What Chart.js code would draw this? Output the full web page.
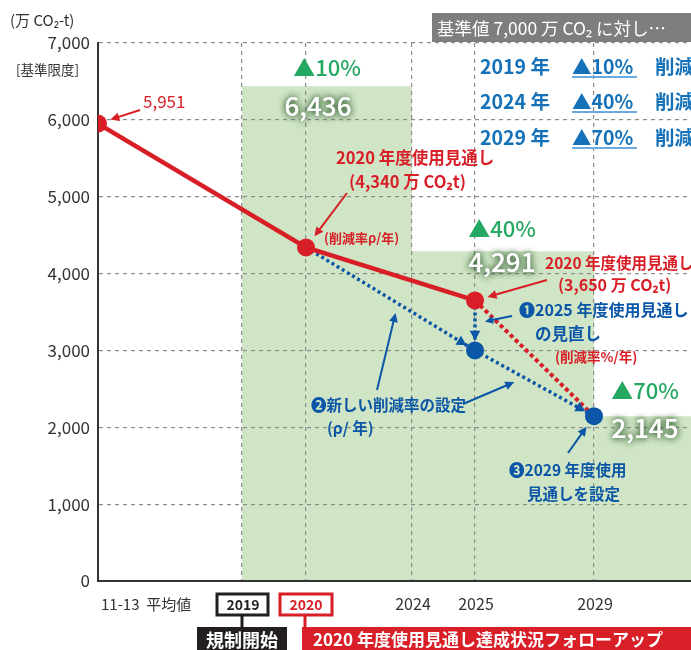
<!DOCTYPE html>
<html><head><meta charset="utf-8">
<script src="https://cdn.jsdelivr.net/npm/chart.js@4"></script>
<style>html,body{margin:0;padding:0;background:#fff;}#wrap{width:691px;height:650px;}</style>
</head><body><div id="wrap"><canvas id="c" width="691" height="650"></canvas></div>
<script>
// ---- data ----
const categories = ['11-13 平均値', '2019', '2020', '2024', '2025', '2029'];
const xSlots = [0, 14.4, 20.8, 31.4, 37.7, 49.6]; // axis position of each category
const xMax = 59.3;
const actualValues = [5951, 4340, 3650];      // 11-13, 2020, 2025
const revisedValues = [4340, 3000, 2145];     // 2020, 2025, 2029
const projection2029 = [3650, 2145];          // 2025 -> 2029
const limitValues = [6436, 4291, 2145];       // limit from 2019, 2024, 2029
const limitLabels = ['▲10%', '▲40%', '▲70%'];
const yTicks = [0, 1000, 2000, 3000, 4000, 5000, 6000, 7000];

const F = '"Noto Sans CJK JP", "Noto Sans", sans-serif';
const RED = '#d81e26', BLUE = '#0b56a6', GREEN = '#25a862', LBLUE = '#1572b9';

function fmt(v) { return v.toLocaleString('en-US'); }

const ds = [
  { // red actual
    data: [{x: xSlots[0], y: actualValues[0]}, {x: xSlots[2], y: actualValues[1]}, {x: xSlots[4], y: actualValues[2]}],
    borderColor: RED, backgroundColor: RED, borderWidth: 4.5,
    pointRadius: 9, pointBackgroundColor: RED, pointBorderWidth: 0, fill: false
  },
  { // blue revised
    data: [{x: xSlots[2], y: revisedValues[0]}, {x: xSlots[4], y: revisedValues[1]}, {x: xSlots[5], y: revisedValues[2]}],
    borderColor: BLUE, borderWidth: 3.5, borderDash: [3, 3],
    pointRadius: [0, 9, 9], pointBackgroundColor: BLUE, pointBorderWidth: 0, fill: false
  },
  { // blue vertical revision
    data: [{x: xSlots[4], y: actualValues[2]}, {x: xSlots[4], y: revisedValues[1]}],
    borderColor: BLUE, borderWidth: 3.5, borderDash: [3, 3], pointRadius: 0, fill: false
  },
  { // red dotted projection
    data: [{x: xSlots[4], y: projection2029[0]}, {x: xSlots[5], y: projection2029[1]}],
    borderColor: RED, borderWidth: 4, borderDash: [4, 3], pointRadius: 0, fill: false
  },
  { // green limit steps
    data: [{x: xSlots[1], y: limitValues[0]}, {x: xSlots[3], y: limitValues[1]}, {x: xSlots[5], y: limitValues[2]}, {x: xMax, y: limitValues[2]}],
    stepped: true, borderWidth: 0, pointRadius: 0,
    backgroundColor: '#cfe5c5', fill: 'origin'
  }
];

function txt(ctx, s, x, y, size, color, opts) {
  opts = opts || {};
  ctx.save();
  ctx.font = (opts.weight || 'normal') + ' ' + size + 'px ' + F;
  ctx.fillStyle = color;
  ctx.textAlign = opts.align || 'left';
  ctx.textBaseline = 'middle';
  if (opts.glow) { ctx.shadowColor = 'rgba(20,70,20,0.75)'; ctx.shadowBlur = 7; }
  ctx.fillText(s, x, y);
  if (opts.glow) { ctx.fillText(s, x, y); }
  ctx.restore();
}
function arrow(ctx, x1, y1, x2, y2, color, w, head) {
  const a = Math.atan2(y2 - y1, x2 - x1);
  ctx.save();
  ctx.strokeStyle = color; ctx.fillStyle = color; ctx.lineWidth = w; ctx.setLineDash([]);
  ctx.beginPath(); ctx.moveTo(x1, y1);
  ctx.lineTo(x2 - Math.cos(a) * head * 0.8, y2 - Math.sin(a) * head * 0.8); ctx.stroke();
  ctx.beginPath(); ctx.moveTo(x2, y2);
  ctx.lineTo(x2 - head * Math.cos(a - 0.45), y2 - head * Math.sin(a - 0.45));
  ctx.lineTo(x2 - head * Math.cos(a + 0.45), y2 - head * Math.sin(a + 0.45));
  ctx.closePath(); ctx.fill();
  ctx.restore();
}
function headOnly(ctx, x1, y1, x2, y2, color, head) {
  const a = Math.atan2(y2 - y1, x2 - x1);
  ctx.save(); ctx.fillStyle = color;
  ctx.beginPath(); ctx.moveTo(x2, y2);
  ctx.lineTo(x2 - head * Math.cos(a - 0.5), y2 - head * Math.sin(a - 0.5));
  ctx.lineTo(x2 - head * Math.cos(a + 0.5), y2 - head * Math.sin(a + 0.5));
  ctx.closePath(); ctx.fill(); ctx.restore();
}
function toward(x1, y1, x2, y2, gap) {
  const d = Math.hypot(x2 - x1, y2 - y1);
  return [x2 - (x2 - x1) / d * gap, y2 - (y2 - y1) / d * gap];
}

const deco = {
  id: 'deco',
  afterDatasetsDraw(chart) {
    const ctx = chart.ctx, xs = chart.scales.x, ys = chart.scales.y;
    const px = i => xs.getPixelForValue(xSlots[i]);
    const py = v => ys.getPixelForValue(v);

    // arrowheads on blue dotted lines
    const b0 = [px(2), py(revisedValues[0])], b1 = [px(4), py(revisedValues[1])], b2 = [px(5), py(revisedValues[2])];
    const r2 = [px(4), py(actualValues[2])];
    let t = toward(b0[0], b0[1], b1[0], b1[1], 10); headOnly(ctx, b0[0], b0[1], t[0], t[1], BLUE, 11);
    t = toward(b1[0], b1[1], b2[0], b2[1], 10); headOnly(ctx, b1[0], b1[1], t[0], t[1], BLUE, 11);
    t = toward(r2[0], r2[1], b1[0], b1[1], 10); headOnly(ctx, r2[0], r2[1], t[0], t[1], BLUE, 11);

    // top-left unit
    txt(ctx, '(万 CO₂-t)', 10, 20, 15, '#333');
    txt(ctx, '[基準限度]', 16, 70, 13.5, '#333');

    // gray box
    ctx.save(); ctx.fillStyle = '#7e7e80'; ctx.fillRect(432, 13, 259, 29); ctx.restore();
    txt(ctx, '基準値 7,000 万 CO₂ に対し…', 437, 28, 17.5, '#fff');

    // blue target list
    const rows = [['2019 年', limitLabels[0], 67], ['2024 年', limitLabels[1], 102], ['2029 年', limitLabels[2], 138]];
    rows.forEach(r => {
      txt(ctx, r[0], 480, r[2], 19.5, LBLUE, {weight: 'bold'});
      txt(ctx, r[1], 572, r[2], 19.5, LBLUE, {weight: 'bold'});
      txt(ctx, '削減', 655, r[2], 19.5, LBLUE, {weight: 'bold'});
      ctx.save(); ctx.strokeStyle = '#6aaade'; ctx.lineWidth = 2;
      ctx.beginPath(); ctx.moveTo(572, r[2] + 10); ctx.lineTo(637, r[2] + 10); ctx.stroke(); ctx.restore();
    });

    // green labels
    txt(ctx, limitLabels[0], 327, 68, 22, GREEN, {align: 'center', weight: '500'});
    txt(ctx, fmt(limitValues[0]), 318, 106, 26, '#fff', {align: 'center', glow: true, weight: '500'});
    txt(ctx, limitLabels[1], 502, 229, 22, GREEN, {align: 'center', weight: '500'});
    txt(ctx, fmt(limitValues[1]), 502, 262, 26, '#fff', {align: 'center', glow: true, weight: '500'});
    txt(ctx, limitLabels[2], 645, 391, 22, GREEN, {align: 'center', weight: '500'});
    txt(ctx, fmt(limitValues[2]), 645, 428, 26, '#fff', {align: 'center', glow: true, weight: '500'});

    // red annotations
    const a0 = [px(0), py(actualValues[0])], a1 = [px(2), py(actualValues[1])];
    txt(ctx, fmt(actualValues[0]), 143, 102, 17, RED);
    t = toward(140, 110, a0[0], a0[1], 13); arrow(ctx, 140, 110, t[0], t[1], RED, 2, 10);
    txt(ctx, '2020 年度使用見通し', 336, 158, 16.5, RED, {weight: 'bold'});
    txt(ctx, '(' + fmt(actualValues[1]) + ' 万 CO₂t)', 349, 182, 16.5, RED, {weight: 'bold'});
    t = toward(347, 193, a1[0], a1[1], 14); arrow(ctx, 347, 193, t[0], t[1], RED, 2, 10);
    txt(ctx, '(削減率ρ/年)', 324, 238, 13, RED, {weight: 'bold'});
    txt(ctx, '2020 年度使用見通し', 545, 263, 15.5, RED, {weight: 'bold'});
    txt(ctx, '(' + fmt(actualValues[2]) + ' 万 CO₂t)', 558, 285, 16, RED, {weight: 'bold'});
    t = toward(547, 280, r2[0], r2[1], 13); arrow(ctx, 547, 280, t[0], t[1], RED, 2, 10);
    txt(ctx, '(削減率%/年)', 555, 357, 13.5, RED, {weight: 'bold'});

    // blue annotations
    txt(ctx, '❶2025 年度使用見通し', 519, 310, 16, BLUE, {weight: 'bold'});
    txt(ctx, 'の見直し', 535, 334, 16.5, BLUE, {weight: 'bold'});
    arrow(ctx, 512, 316, r2[0] + 10, (r2[1] + b1[1]) / 2 - 4, BLUE, 2, 9);
    txt(ctx, '❷新しい削減率の設定', 311, 405, 15.5, BLUE, {weight: 'bold'});
    txt(ctx, '(ρ/ 年)', 327, 428, 15.5, BLUE, {weight: 'bold'});
    const m1 = [b0[0] + (b1[0] - b0[0]) * 0.53, b0[1] + (b1[1] - b0[1]) * 0.53 + 11];
    arrow(ctx, 377, 390, m1[0], m1[1], BLUE, 2, 10);
    const m2 = [b1[0] + (b2[0] - b1[0]) * 0.33, b1[1] + (b2[1] - b1[1]) * 0.33 + 10];
    arrow(ctx, 463, 404, m2[0], m2[1], BLUE, 2, 10);
    txt(ctx, '❸2029 年度使用', 509, 470, 15.5, BLUE, {weight: 'bold'});
    txt(ctx, '見通しを設定', 527, 494, 15.5, BLUE, {weight: 'bold'});
    t = toward(568, 453, b2[0], b2[1], 13); arrow(ctx, 568, 453, t[0], t[1], BLUE, 2, 10);

    // x-axis labels
    txt(ctx, '11-13  平均値', 101, 604, 15, '#333');
    const x19 = px(1), x20 = px(2);
    ctx.save();
    ctx.lineWidth = 3; ctx.strokeStyle = '#231f20';
    ctx.fillStyle = '#fff'; ctx.fillRect(x19 - 25, 594, 51, 21); ctx.strokeRect(x19 - 25, 594, 51, 21);
    ctx.beginPath(); ctx.moveTo(x19, 616); ctx.lineTo(x19, 628); ctx.stroke();
    ctx.fillStyle = '#231f20'; ctx.fillRect(x19 - 45, 627, 90, 23);
    ctx.strokeStyle = RED;
    ctx.fillStyle = '#fff'; ctx.fillRect(x20 - 26, 594, 52, 21); ctx.strokeRect(x20 - 26, 594, 52, 21);
    ctx.beginPath(); ctx.moveTo(x20 - 1, 616); ctx.lineTo(x20 - 1, 628); ctx.stroke();
    ctx.fillStyle = RED; ctx.fillRect(x20 - 4, 627, 691 - x20 + 4, 23);
    ctx.restore();
    txt(ctx, categories[1], x19 + 1, 605, 14, '#231f20', {align: 'center', weight: 'bold'});
    txt(ctx, categories[2], x20, 605, 14, RED, {align: 'center', weight: 'bold'});
    txt(ctx, '規制開始', x19, 640, 18, '#fff', {align: 'center', weight: 'bold'});
    txt(ctx, '2020 年度使用見通し達成状況フォローアップ', x20 + 7, 640, 17, '#fff', {weight: 'bold'});
    [3, 4, 5].forEach(i => txt(ctx, categories[i], px(i) + 1, 604, 16, '#333', {align: 'center'}));
  }
};

new Chart(document.getElementById('c'), {
  type: 'line',
  data: { datasets: ds },
  options: {
    responsive: false, animation: false, devicePixelRatio: 1,
    layout: { autoPadding: false, padding: { top: 43, right: 0, bottom: 0, left: 0 } },
    plugins: { legend: { display: false }, tooltip: { enabled: false }, filler: { drawTime: 'beforeDraw' } },
    scales: {
      x: {
        type: 'linear', min: 0, max: xMax,
        afterBuildTicks: s => { s.ticks = xSlots.slice(1).map(v => ({ value: v })); },
        afterFit: s => { s.height = 69; },
        ticks: { display: false },
        grid: { color: '#8c8c8c', lineWidth: 1.2, drawTicks: false },
        border: { display: true, color: '#333', width: 2, dash: [4, 4] }
      },
      y: {
        min: 0, max: 7000,
        afterBuildTicks: s => { s.ticks = yTicks.map(v => ({ value: v })); },
        afterFit: s => { s.width = 98; },
        ticks: { callback: v => fmt(v), color: '#333', font: { family: F, size: 17 }, padding: 8 },
        grid: { color: '#8c8c8c', lineWidth: 1.2, drawTicks: false },
        border: { display: true, color: '#333', width: 2, dash: [4, 4] }
      }
    }
  },
  plugins: [deco]
});
</script>
</body></html>
